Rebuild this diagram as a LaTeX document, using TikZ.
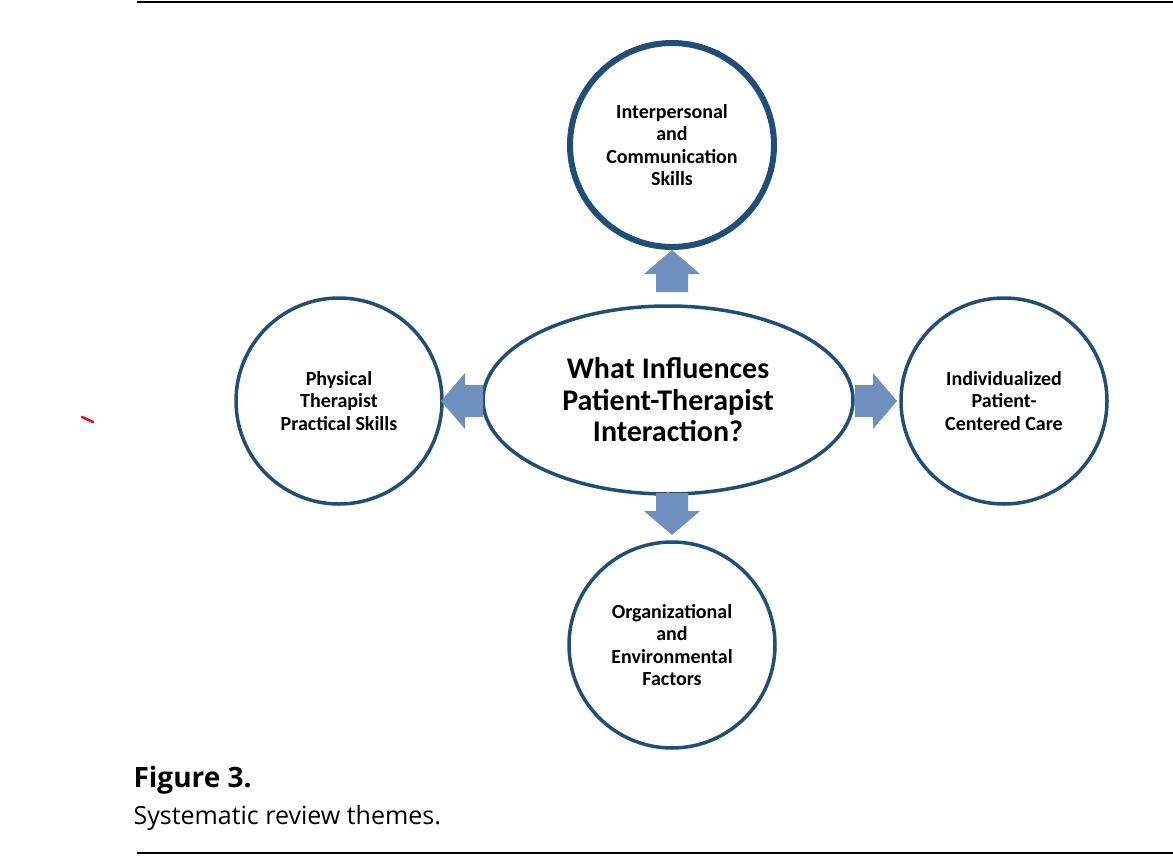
\documentclass[tikz,border=0pt]{standalone}
\usepackage{fontspec}
\setmainfont{Carlito}
\newfontfamily\capfont{Open Sans}
\usetikzlibrary{shapes.geometric}
\definecolor{ring}{HTML}{1F4E79}
\definecolor{arr}{HTML}{6F8FBF}
\newcommand{\blockarr}[3]{% center x, center y, rotation (0 = pointing up)
  \fill[arr,shift={(#1,#2)},rotate=#3] (-16,21) -- (-16,3) -- (-28,3) -- (0,-21) -- (28,3) -- (16,3) -- (16,21) -- cycle;}
\begin{document}
\begin{tikzpicture}[x=1pt,y=-1pt,
  theme/.style={circle,draw=ring,line width=3.5pt,minimum size=206pt,inner sep=0pt,align=center,font=\fontsize{20}{22.5}\selectfont\bfseries}]
\useasboundingbox (0,0) rectangle (1173,865);
\fill[white] (0,0) rectangle (1173,865);
\draw[line width=1.2pt] (137,2) -- (1173,2);
\draw[line width=1.2pt] (137,853) -- (1173,853);
\node[theme,line width=6pt,minimum size=204pt] (top) at (672,145) {Interpersonal\\and\\Communication\\Skills};
\node[theme] (left) at (339,401) {Physical\\Therapist\\Practical Skills};
\node[theme] (right) at (1004,401) {Individualized\\Patient-\\Centered Care};
\node[theme] (bot) at (672,645) {Organizational\\and\\Environmental\\Factors};
\node[ellipse,draw=ring,line width=3.5pt,minimum width=370pt,minimum height=188pt,align=center,font=\fontsize{30}{31.5}\selectfont\bfseries] (c) at (668,400) {What Influences\\Patient-Therapist\\Interaction?};
\blockarr{672}{271}{0}
\blockarr{462}{401}{90}
\blockarr{876}{401}{-90}
\blockarr{672}{514}{180}
\draw[red!90!magenta,line width=2.5pt,line cap=round] (82,417) -- (93,422);
\node[anchor=west,font=\capfont\fontsize{28}{32}\selectfont\bfseries] (fig) at (130,780) {Figure 3.};
\node[anchor=west,font=\capfont\fontsize{25}{28}\selectfont] (cap) at (130,818) {Systematic review themes.};
\end{tikzpicture}
\end{document}
